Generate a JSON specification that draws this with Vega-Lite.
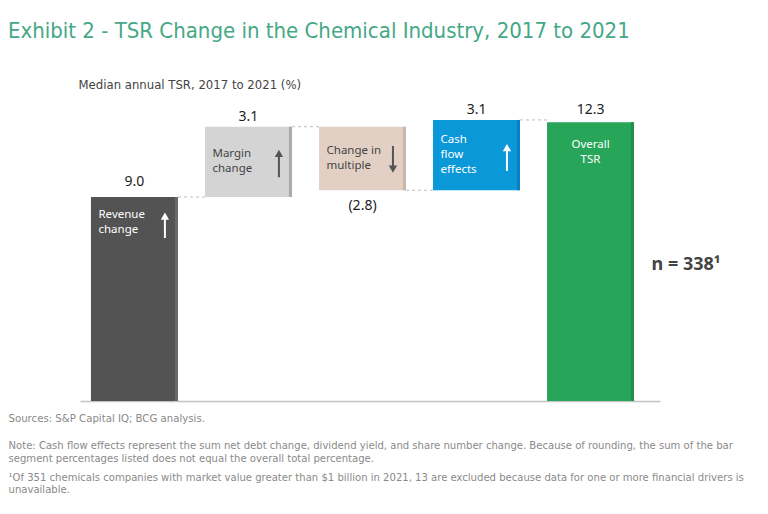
{
  "$schema": "https://vega.github.io/schema/vega-lite/v6.json",
  "width": 580,
  "height": 301,
  "autosize": {"type": "none"},
  "padding": {"left": 80, "top": 100, "right": 108, "bottom": 113},
  "background": "white",
  "config": {"view": {"stroke": null}, "font": "Noto Sans"},
  "title": {
    "text": "Exhibit 2 - TSR Change in the Chemical Industry, 2017 to 2021",
    "anchor": "start",
    "frame": "group",
    "dx": -72,
    "offset": 35,
    "fontSize": 22,
    "font": "DejaVu Sans Condensed, Roboto",
    "fontWeight": "normal",
    "color": "#45a885"
  },
  "datasets": {
    "bars": [
      {"cat": "Revenue change", "start": 0, "end": 9.0, "label": "9.0", "labelY": 9.66, "txt": "Revenue\nchange", "txtY": 8.47, "next": "Margin change", "lvl": 9.0, "aTail": 7.19, "aHead": 8.16, "dir": "up", "tone": "light"},
      {"cat": "Margin change", "start": 9.0, "end": 12.1, "label": "3.1", "labelY": 12.53, "txt": "Margin\nchange", "txtY": 11.16, "next": "Change in multiple", "lvl": 12.1, "aTail": 9.87, "aHead": 10.92, "dir": "up", "tone": "dark"},
      {"cat": "Change in multiple", "start": 12.1, "end": 9.3, "label": "(2.8)", "labelY": 8.6, "txt": "Change in\nmultiple", "txtY": 11.29, "next": "Cash flow effects", "lvl": 9.3, "aTail": 11.25, "aHead": 10.23, "dir": "down", "tone": "dark"},
      {"cat": "Cash flow effects", "start": 9.3, "end": 12.4, "label": "3.1", "labelY": 12.86, "txt": "Cash\nflow\neffects", "txtY": 11.78, "next": "Overall TSR", "lvl": 12.4, "aTail": 10.15, "aHead": 11.18, "dir": "up", "tone": "light"},
      {"cat": "Overall TSR", "start": 0, "end": 12.3, "label": "12.3", "labelY": 12.86, "txt": "Overall\nTSR", "txtY": 11.56, "next": null, "lvl": null, "aTail": null, "aHead": null, "dir": null, "tone": "light"}
    ],
    "note": [
      {"cat": "Overall TSR", "y": 6.0, "t": "n = 338¹"}
    ]
  },
  "resolve": {
    "scale": {"x": "independent", "y": "independent"},
    "axis": {"x": "independent", "y": "independent"}
  },
  "layer": [
    {
      "data": {"name": "bars"},
      "layer": [
        {
          "transform": [{"filter": "datum.next != null"}],
          "mark": {"type": "rule", "color": "#bdbdbd", "strokeDash": [3, 3], "strokeWidth": 1},
          "encoding": {
            "x": {"field": "cat", "type": "nominal", "bandPosition": 1, "sort": null},
            "x2": {"field": "next", "bandPosition": 0},
            "y": {"field": "lvl", "type": "quantitative"}
          }
        },
        {
          "mark": {"type": "bar"},
          "encoding": {
            "x": {
              "field": "cat", "type": "nominal", "sort": null,
              "scale": {"type": "band", "domain": ["Revenue change", "Margin change", "Change in multiple", "Cash flow effects", "Overall TSR"], "paddingInner": 0.237, "paddingOuter": 0.162, "align": 0.297},
              "axis": {
                "orient": "bottom",
                "labels": false, "ticks": false, "domain": true, "domainColor": "#c4c4c4", "domainWidth": 1.5, "grid": false,
                "title": "Sources: S&P Capital IQ; BCG analysis.",
                "titleFont": "DejaVu Sans Condensed, Roboto",
                "titleFontSize": 11.3,
                "titleFontWeight": "normal",
                "titleColor": "#8a8a8a",
                "titleAlign": "left",
                "titleAnchor": "start",
                "titleBaseline": "middle",
                "titleX": -72,
                "titleY": 17
              }
            },
            "y": {
              "field": "start", "type": "quantitative",
              "scale": {"domain": [0, 13.28], "nice": false, "zero": true},
              "axis": {
                "orient": "left",
                "labels": false, "ticks": false, "domain": false, "grid": false,
                "title": "Median annual TSR, 2017 to 2021 (%)",
                "titleAngle": 0, "titleAlign": "left", "titleBaseline": "middle",
                "titleX": -2, "titleY": -16,
                "titleFont": "DejaVu Sans Condensed, Roboto",
                "titleFontSize": 13, "titleFontWeight": "normal", "titleColor": "#444444"
              }
            },
            "y2": {"field": "end"},
            "color": {
              "field": "cat", "type": "nominal", "legend": null,
              "scale": {"domain": ["Revenue change", "Margin change", "Change in multiple", "Cash flow effects", "Overall TSR"], "range": ["#535353", "#d4d4d4", "#e2d0c5", "#0b98d9", "#27a659"]}
            }
          }
        },
        {
          "mark": {"type": "rule", "strokeWidth": 3},
          "encoding": {
            "x": {"field": "cat", "type": "nominal", "bandPosition": 0.982, "sort": null},
            "y": {"field": "start", "type": "quantitative"},
            "y2": {"field": "end"},
            "stroke": {
              "field": "cat", "type": "nominal", "legend": null,
              "scale": {"domain": ["Revenue change", "Margin change", "Change in multiple", "Cash flow effects", "Overall TSR"], "range": ["#6a6a6a", "#a9a9a9", "#c9b6aa", "#0a7fc2", "#218e4b"]}
            }
          }
        },
        {
          "transform": [{"filter": "datum.aTail != null"}],
          "mark": {"type": "rule", "strokeWidth": 2},
          "encoding": {
            "x": {"field": "cat", "type": "nominal", "bandPosition": 0.85, "sort": null},
            "y": {"field": "aTail", "type": "quantitative"},
            "y2": {"field": "aHead"},
            "color": {"condition": {"test": "datum.tone == 'light'", "value": "#ffffff"}, "value": "#555555"}
          }
        },
        {
          "transform": [{"filter": "datum.aTail != null"}],
          "mark": {"type": "point", "filled": true, "opacity": 1, "size": 70},
          "encoding": {
            "x": {"field": "cat", "type": "nominal", "bandPosition": 0.85, "sort": null},
            "y": {"field": "aHead", "type": "quantitative"},
            "shape": {"field": "dir", "type": "nominal", "legend": null, "scale": {"domain": ["up", "down"], "range": ["triangle-up", "triangle-down"]}},
            "color": {"condition": {"test": "datum.tone == 'light'", "value": "#ffffff"}, "value": "#555555"}
          }
        },
        {
          "mark": {"type": "text", "fontSize": 14, "color": "#222222", "baseline": "middle", "align": "center"},
          "encoding": {
            "x": {"field": "cat", "type": "nominal", "sort": null},
            "y": {"field": "labelY", "type": "quantitative"},
            "text": {"field": "label"}
          }
        },
        {
          "transform": [{"filter": "datum.cat != 'Overall TSR'"}, {"calculate": "split(datum.txt, '\\n')", "as": "lines"}],
          "mark": {"type": "text", "fontSize": 11.5, "align": "left", "baseline": "top", "dx": 7.5, "lineHeight": 15},
          "encoding": {
            "x": {"field": "cat", "type": "nominal", "bandPosition": 0, "sort": null},
            "y": {"field": "txtY", "type": "quantitative"},
            "text": {"field": "lines"},
            "color": {"condition": {"test": "datum.tone == 'light'", "value": "#ffffff"}, "value": "#444444"}
          }
        },
        {
          "transform": [{"filter": "datum.cat == 'Overall TSR'"}, {"calculate": "split(datum.txt, '\\n')", "as": "lines"}],
          "mark": {"type": "text", "fontSize": 11.5, "align": "center", "baseline": "top", "lineHeight": 15, "color": "#ffffff"},
          "encoding": {
            "x": {"field": "cat", "type": "nominal", "sort": null},
            "y": {"field": "txtY", "type": "quantitative"},
            "text": {"field": "lines"}
          }
        }
      ]
    },
    {
      "data": {"name": "note"},
      "mark": {"type": "text", "fontSize": 18, "fontWeight": "bold", "align": "left", "baseline": "middle", "dx": 61, "color": "#444444"},
      "encoding": {
        "x": {
          "field": "cat", "type": "nominal",
          "scale": {"type": "band", "domain": ["Revenue change", "Margin change", "Change in multiple", "Cash flow effects", "Overall TSR"], "paddingInner": 0.237, "paddingOuter": 0.162, "align": 0.297},
          "axis": {
            "orient": "bottom",
            "labels": false, "ticks": false, "domain": false, "grid": false,
            "title": ["Note: Cash flow effects represent the sum net debt change, dividend yield, and share number change. Because of rounding, the sum of the bar", "segment percentages listed does not equal the overall total percentage."],
            "titleFont": "DejaVu Sans Condensed, Roboto",
            "titleFontSize": 11.2,
            "titleFontWeight": "normal",
            "titleColor": "#8a8a8a",
            "titleAlign": "left",
            "titleAnchor": "start",
            "titleBaseline": "top",
            "titleLineHeight": 13,
            "titleX": -72,
            "titleY": 38
          }
        },
        "y": {
          "field": "y", "type": "quantitative",
          "scale": {"domain": [0, 13.28], "nice": false, "zero": true},
          "axis": {
            "orient": "left",
            "labels": false, "ticks": false, "domain": false, "grid": false,
            "title": ["¹Of 351 chemicals companies with market value greater than $1 billion in 2021, 13 are excluded because data for one or more financial drivers is", "unavailable."],
            "titleAngle": 0, "titleAlign": "left", "titleBaseline": "top",
            "titleLineHeight": 12.5,
            "titleX": -72, "titleY": 371,
            "titleFont": "DejaVu Sans Condensed, Roboto",
            "titleFontSize": 11.2, "titleFontWeight": "normal", "titleColor": "#8a8a8a"
          }
        },
        "text": {"field": "t"}
      }
    }
  ]
}
